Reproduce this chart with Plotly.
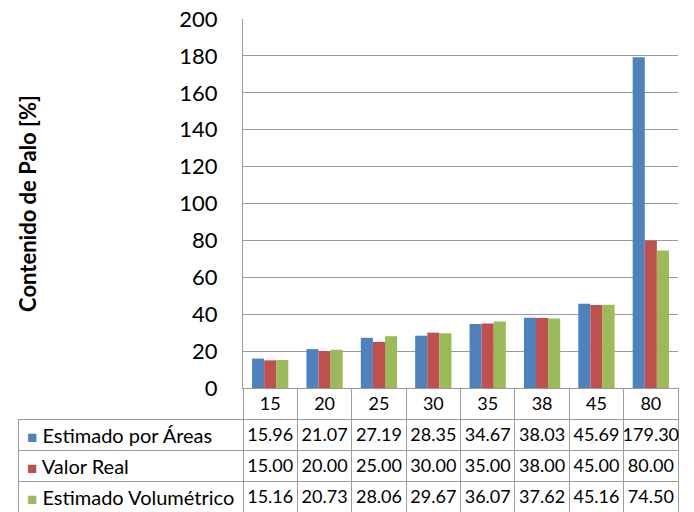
import plotly.graph_objects as go

categories = ["15", "20", "25", "30", "35", "38", "45", "80"]
series_names = ["Estimado por Áreas", "Valor Real", "Estimado Volumétrico"]
estimado_areas = [15.96, 21.07, 27.19, 28.35, 34.67, 38.03, 45.69, 179.30]
valor_real = [15.00, 20.00, 25.00, 30.00, 35.00, 38.00, 45.00, 80.00]
estimado_vol = [15.16, 20.73, 28.06, 29.67, 36.07, 37.62, 45.16, 74.50]
colors = ["#4F81BD", "#C0504D", "#9BBB59"]
y_ticks = [0, 20, 40, 60, 80, 100, 120, 140, 160, 180, 200]

W, H = 694, 512
FONT = "Lato"
GRID = "#9d9d9d"

plot_left, plot_right = 243, 678
plot_top, plot_bottom = 19, 388
label_col_left = 18
header_h, row_h = 31, 31

series_values = [estimado_areas, valor_real, estimado_vol]

fig = go.Figure()
for name, vals, col in zip(series_names, series_values, colors):
    fig.add_trace(go.Bar(x=categories, y=vals, name=name, marker=dict(color=col, line=dict(width=0)),
                         showlegend=False))

# data table
header_vals = [""] + categories
cell_cols = [["", "", ""]]
for i in range(len(categories)):
    cell_cols.append([f"{v[i]:.2f}" for v in series_values])

col_w = (plot_right - plot_left) / len(categories)
fig.add_trace(go.Table(
    domain=dict(x=[label_col_left / W, plot_right / W], y=[0, 1 - plot_bottom / H]),
    columnwidth=[plot_left - label_col_left] + [col_w] * len(categories),
    header=dict(values=header_vals, height=header_h,
                fill=dict(color=["rgba(0,0,0,0)"] + ["white"] * len(categories)),
                line=dict(color=["rgba(0,0,0,0)"] + [GRID] * len(categories), width=1),
                align="center", font=dict(family=FONT, size=18, color="#000")),
    cells=dict(values=cell_cols, height=row_h,
               fill=dict(color="white"),
               line=dict(color=GRID, width=1),
               align="center",
               font=dict(family=FONT, size=18, color="#000")),
))

# legend keys + series names in the first table column
for k, (name, col) in enumerate(zip(series_names, colors)):
    yc = plot_bottom + header_h + row_h * (k + 0.5)
    fig.add_annotation(x=(label_col_left + 7) / W, y=1 - yc / H, xref="paper", yref="paper",
                       xanchor="left", yanchor="middle", showarrow=False,
                       text=f'<span style="color:{col};font-size:17px">■</span> {name}',
                       font=dict(family=FONT, size=20, color="#000"))

fig.update_layout(
    width=W, height=H,
    margin=dict(l=0, r=0, t=0, b=0),
    paper_bgcolor="white", plot_bgcolor="white",
    barmode="group", bargap=0.333, bargroupgap=0,
    xaxis=dict(domain=[plot_left / W, plot_right / W], showticklabels=False, ticks="",
               automargin=False,
               showgrid=False, showline=True, linecolor=GRID, linewidth=1, zeroline=False),
    yaxis=dict(domain=[1 - plot_bottom / H, 1 - plot_top / H], range=[0, 200],
               automargin=False,
               tickvals=y_ticks, ticks="", showgrid=True, gridcolor=GRID, gridwidth=1,
               showline=True, linecolor=GRID, linewidth=1, zeroline=False,
               ticklabelstandoff=20,
               tickfont=dict(family=FONT, size=22, color="#000"),
               title=dict(text="<b>Contenido de Palo [%]</b>", standoff=136,
                          font=dict(family=FONT, size=22, color="#000"))),
)

fig.write_html("out.html")
